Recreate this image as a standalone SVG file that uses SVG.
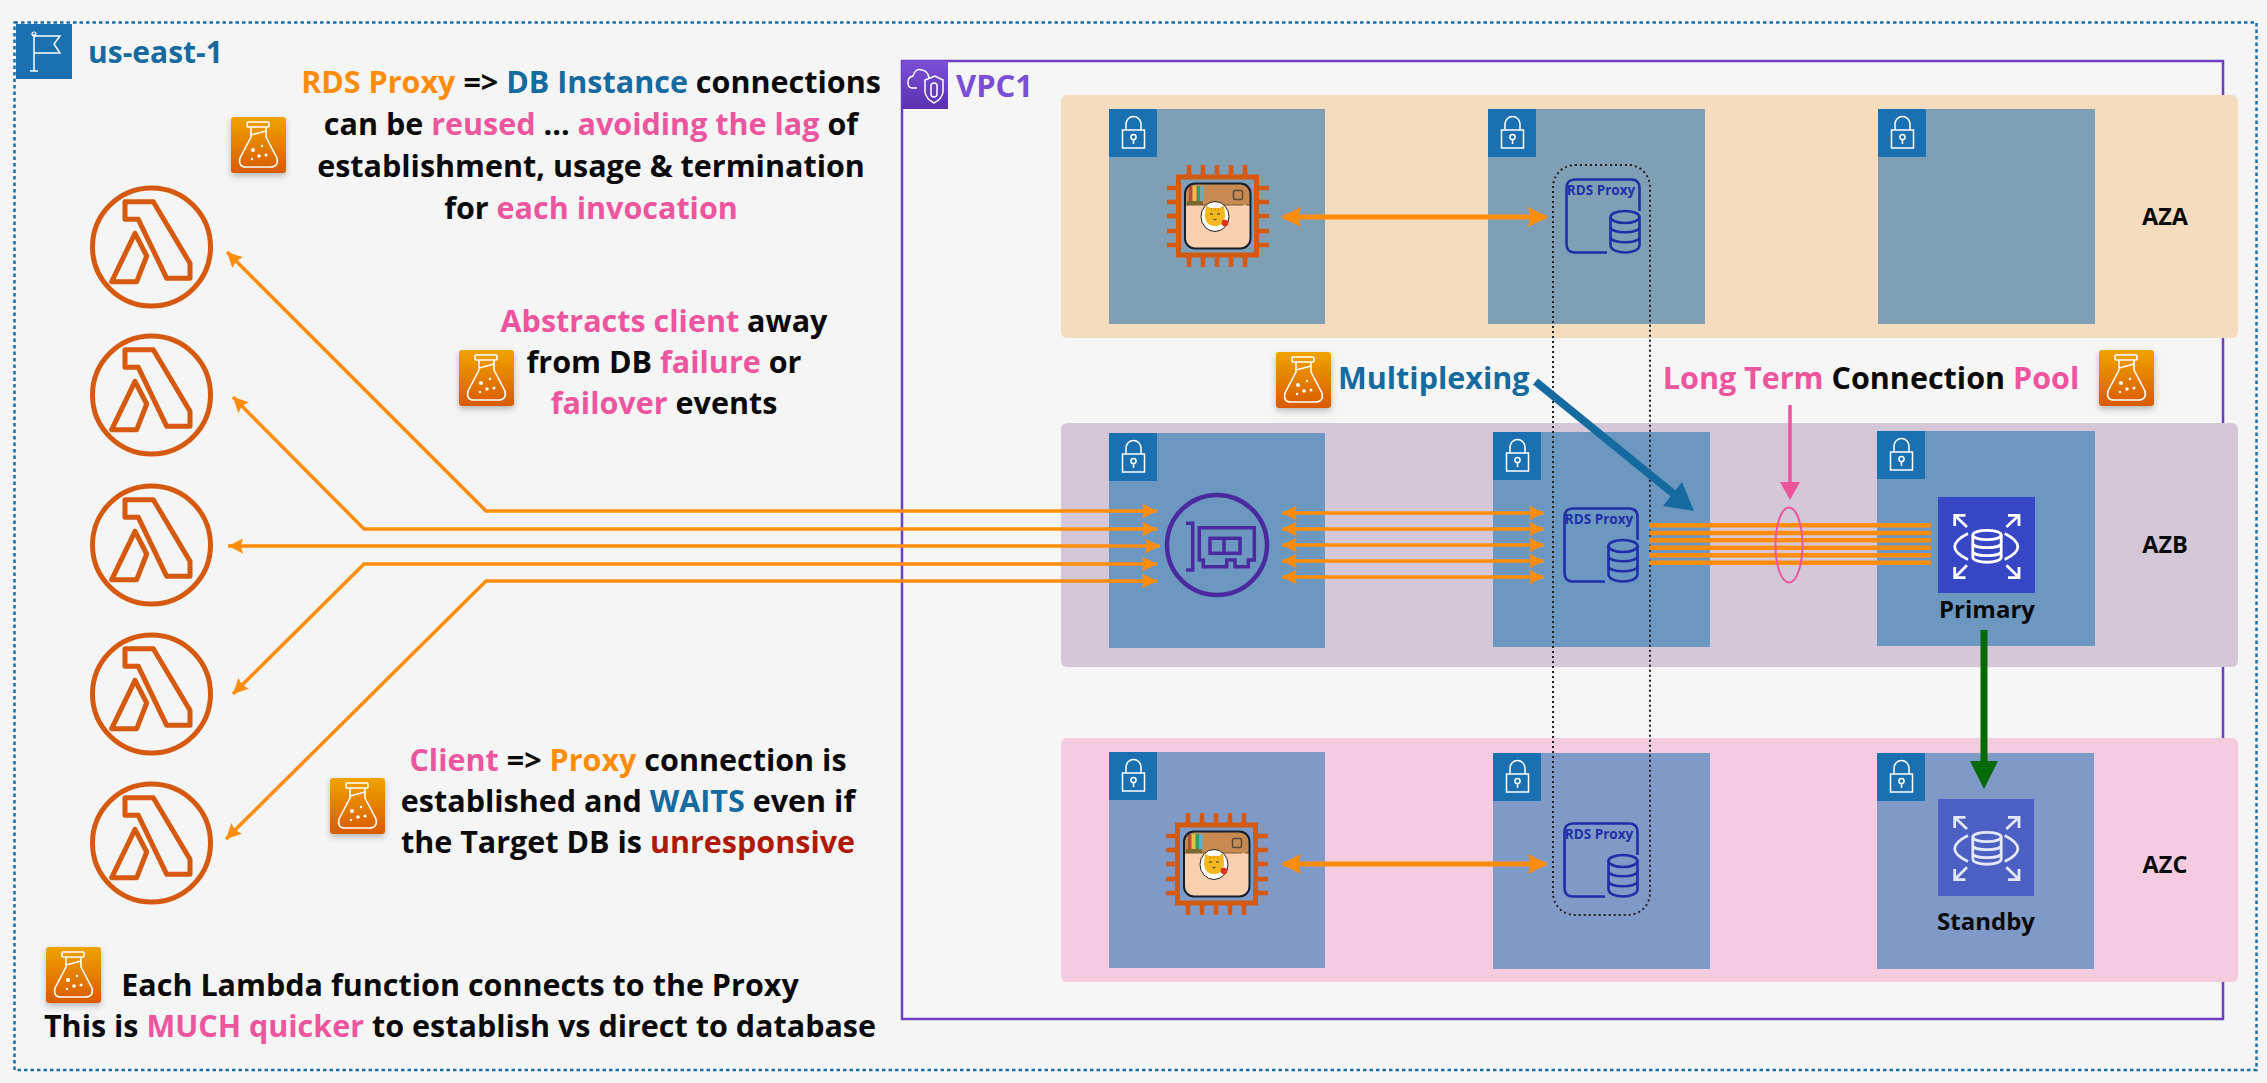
<svg xmlns="http://www.w3.org/2000/svg" width="2267" height="1083" viewBox="0 0 2267 1083">
<style>
text{font-family:"Open Sans","Liberation Sans",sans-serif;font-weight:700;fill:#0a0a0a}
.t{font-size:30.500px;text-anchor:middle}
.az{font-size:23.500px;text-anchor:middle}
.o{fill:#ff8c0a}.b{fill:#156a9f}.p{fill:#ee559f}.r{fill:#b01a05}
.or{stroke:#ff8c0a;stroke-width:3.500;fill:none}
.or2{stroke:#ff8c0a;stroke-width:5;fill:none}
.bar{stroke:#ff8c0a;stroke-width:4.500;fill:none}
.lam{fill:none;stroke:#d5590f;stroke-width:5;stroke-linejoin:round}
.s1{fill:#7f9fb6}.s2{fill:#6c97c0}.s3{fill:#7f9ac6}
.eni{fill:none;stroke:#4b2aa0;stroke-width:3.500}
</style>
<defs>
<linearGradient id="fg" x1="0" y1="0" x2="0" y2="1"><stop offset="0" stop-color="#f0a300"/><stop offset="1" stop-color="#d95a05"/></linearGradient>
<linearGradient id="vg" x1="0" y1="0" x2="0" y2="1"><stop offset="0" stop-color="#7c50d6"/><stop offset="1" stop-color="#5a30b0"/></linearGradient>
<filter id="sh" x="-20%" y="-20%" width="140%" height="150%"><feDropShadow dx="0" dy="3" stdDeviation="3" flood-color="#000" flood-opacity=".25"/></filter>
<marker id="ah" viewBox="0 0 10 10" refX="10" refY="5" markerUnits="userSpaceOnUse" markerWidth="15" markerHeight="15" orient="auto-start-reverse"><path d="M0 0L10 5L0 10L1.500 5Z" fill="#ff8c0a"/></marker>
<marker id="ah2" viewBox="0 0 10 10" refX="9" refY="5" markerUnits="userSpaceOnUse" markerWidth="20" markerHeight="20" orient="auto-start-reverse"><path d="M0 0L10 5L0 10L1.500 5Z" fill="#ff8c0a"/></marker>
<symbol id="flask" viewBox="0 0 55 56" overflow="visible">
<rect width="55" height="56" rx="3" fill="url(#fg)"/>
<g fill="none" stroke="#fff" stroke-width="1.600" stroke-linejoin="round">
<rect x="16" y="5" width="22" height="5" rx="1"/>
<path d="M20 10V20L9 41Q7 50 15 50H39Q48 50 46 41L35 20V10"/>
<path d="M20 18L35 14"/>
</g>
<g fill="#fff"><circle cx="22" cy="33" r="2"/><circle cx="31" cy="29" r="1.200"/><circle cx="35" cy="38" r="1.500"/><circle cx="21" cy="42" r="1.200"/><circle cx="28" cy="39" r="1.800"/></g>
</symbol>
<symbol id="lambda" viewBox="0 0 124 124">
<circle cx="62" cy="62" r="59" fill="none" stroke="#d5590f" stroke-width="5"/>
<path class="lam" d="M35.500 16.700H63.800L100.500 78.300V93.300H77.200L48.800 34.300H35.500Z"/>
<path class="lam" d="M45.500 48.300L22.200 96.700H47.200L57.200 71Z"/>
</symbol>
<symbol id="lock" viewBox="0 0 48 48">
<rect width="48" height="48" fill="#1a70b0"/>
<g fill="none" stroke="#fff" stroke-width="1.500">
<rect x="13.500" y="21" width="22" height="18"/>
<path d="M17 21V15A7.500 7.500 0 0 1 32 15V21"/>
<circle cx="24.500" cy="28" r="2.600"/>
<path d="M24.500 30.500V35"/>
</g>
</symbol>
<symbol id="chip" viewBox="0 0 102 102">
<rect x="11.500" y="12" width="78" height="78" fill="none" stroke="#d35a10" stroke-width="5"/>
<path fill="none" stroke="#d35a10" stroke-width="4.500" d="M22 0V12M36 0V12M50 0V12M64 0V12M78 0V12M22 90V102M36 90V102M50 90V102M64 90V102M78 90V102M0 23H12M0 37H12M0 51H12M0 66H12M0 80H12M90 23H102M90 37H102M90 51H102M90 66H102M90 80H102"/>
<rect x="18" y="18.500" width="65.500" height="65" rx="10" fill="#fccfae"/>
<path d="M18 40V28.500Q18 18.500 28 18.500H73.500Q83.500 18.500 83.500 28.500V40Z" fill="#c88a50"/>
<path d="M22 21H25V37H22Z" fill="#b84a3a"/><path d="M26 21H29V37H26Z" fill="#e8c040"/><path d="M30 21H33V37H30Z" fill="#3a9a6a"/><path d="M33.500 21H36.500V37H33.500Z" fill="#5ab0d0"/>
<rect x="20" y="36" width="16" height="4" rx="1" fill="#7a6a30"/>
<rect x="66.500" y="25.500" width="9" height="9" rx="1.500" fill="none" stroke="#5a4a3a" stroke-width="1.500"/>
<path d="M18 40H83" stroke="#7a5a3a" stroke-width="1" stroke-dasharray="30 3 25 3"/>
<rect x="18" y="18.500" width="65.500" height="65" rx="10" fill="none" stroke="#10202c" stroke-width="2"/>
<ellipse cx="48" cy="51.500" rx="14" ry="15" fill="#fff" stroke="#222" stroke-width="1"/>
<path d="M38.500 45L38.800 40.500L43.500 43H52.500L57 40.500L57.500 45Q58 48 58 51.500Q57 61 48 61Q39 61 38 51.500Q38 48 38.500 45Z" fill="#f5b81e"/>
<path d="M43 49H46M50 49H53" stroke="#333" stroke-width="1.200"/><path d="M46.500 54Q48 56 49.500 54" stroke="#333" fill="none"/>
<path d="M44 43L45 46M48 42.500V46M52 43L51 46" stroke="#d88a10" stroke-width="1"/>
<circle cx="58" cy="58" r="3.300" fill="#e03020"/>
</symbol>
<symbol id="proxy" viewBox="0 0 76 76">
<g fill="none" stroke="#1f2fa8" stroke-width="2.600">
<path d="M42 74.500H10Q1.500 74.500 1.500 66V10Q1.500 1.500 10 1.500H66Q74.500 1.500 74.500 10V33"/>
<path d="M45.500 39V67C45.500 77 74.500 77 74.500 67V39"/>
<ellipse cx="60" cy="39" rx="14.500" ry="6"/>
<path d="M45.500 49C45.500 56 74.500 56 74.500 49M45.500 59C45.500 66 74.500 66 74.500 59"/>
</g>
<text x="36" y="17" text-anchor="middle" style="font-size:13.500px;fill:#1f2fa8">RDS Proxy</text>
</symbol>
<symbol id="rds" viewBox="0 0 97 97">
<g fill="none" stroke="#fff" stroke-width="2.800">
<path d="M29 30L16.700 18.300M16.700 29V18.300H27.500M68.400 30L81 18.300M81 29V18.300H70M29 68.300L16.700 80.600M16.700 70V80.600H27.500M68.400 68.300L81 80.600M81 70V80.600H70"/>
<path d="M30 36.600Q3.400 50 30 62.600M66.700 36.600Q93 50 66.700 62.600"/>
<ellipse cx="49" cy="38" rx="14.200" ry="4.700"/>
<path d="M34.800 38V60C34.800 67 63.200 67 63.200 60V38M34.800 46.500C34.800 52 63.200 52 63.200 46.500M34.800 54.500C34.800 60 63.200 60 63.200 54.500"/>
</g>
</symbol>
</defs>
<rect width="2267" height="1083" fill="#f5f5f5"/>

<g id="region-us-east-1">
<rect x="14.500" y="22.500" width="2242" height="1047.500" fill="none" stroke="#1b6ea8" stroke-width="2.500" stroke-dasharray="3.500 3"/>
<rect x="16" y="24" width="56" height="55" fill="#1a70b0"/>
<path d="M34 34V71M30 71H38M34 36H60L54 44L60 53H34" fill="none" stroke="#fff" stroke-width="1.500"/><circle cx="34" cy="34" r="2" fill="none" stroke="#fff" stroke-width="1.200"/>
<text x="88" y="63" style="font-size:30px;fill:#156a9f">us-east-1</text>
</g>

<g id="vpc1">
<rect x="902" y="61" width="1321" height="958" fill="#f7f6f7" stroke="#6d3fc5" stroke-width="2.500"/>
<rect x="902" y="61" width="46" height="48" fill="url(#vg)"/>
<path d="M917 88H912Q908 88 908 82Q908 77 913 76Q915 68 922 70Q928 71 929 78" fill="none" stroke="#fff" stroke-width="1.500"/><path d="M925 80L935 76L943 80V92Q942 99 934 103Q926 99 925 92Z" fill="none" stroke="#fff" stroke-width="1.500"/><rect x="931" y="83" width="6" height="14" rx="3" fill="none" stroke="#fff" stroke-width="1.500"/>
<text x="956" y="97" style="font-size:31px;fill:#7a4fd6">VPC1</text>
</g>

<g id="az-a">
<rect x="1061" y="95" width="1177" height="243" rx="6" fill="#f6dcbf"/>
<text class="az" x="2165" y="225">AZA</text>
</g>
<g id="az-b">
<rect x="1061" y="423" width="1177" height="244" rx="6" fill="#d4c8d8"/>
<text class="az" x="2165" y="553">AZB</text>
</g>
<g id="az-c">
<rect x="1061" y="738" width="1177" height="244" rx="6" fill="#f5cbdf"/>
<text class="az" x="2165" y="873">AZC</text>
</g>

<g id="subnet-a1"><rect class="s1" x="1109" y="109" width="216" height="215"/><use href="#lock" x="1109" y="109" width="48" height="48"/></g>
<g id="subnet-a2"><rect class="s1" x="1488" y="109" width="217" height="215"/><use href="#lock" x="1488" y="109" width="48" height="48"/></g>
<g id="subnet-a3"><rect class="s1" x="1878" y="109" width="217" height="215"/><use href="#lock" x="1878" y="109" width="48" height="48"/></g>
<g id="subnet-b1"><rect class="s2" x="1109" y="433" width="216" height="215"/><use href="#lock" x="1109" y="433" width="48" height="48"/></g>
<g id="subnet-b2"><rect class="s2" x="1493" y="432" width="217" height="215"/><use href="#lock" x="1493" y="432" width="48" height="48"/></g>
<g id="subnet-b3"><rect class="s2" x="1877" y="431" width="218" height="215"/><use href="#lock" x="1877" y="431" width="48" height="48"/></g>
<g id="subnet-c1"><rect class="s3" x="1109" y="752" width="216" height="216"/><use href="#lock" x="1109" y="752" width="48" height="48"/></g>
<g id="subnet-c2"><rect class="s3" x="1493" y="753" width="217" height="216"/><use href="#lock" x="1493" y="753" width="48" height="48"/></g>
<g id="subnet-c3"><rect class="s3" x="1877" y="753" width="217" height="216"/><use href="#lock" x="1877" y="753" width="48" height="48"/></g>

<g id="lambda-1"><use href="#lambda" x="89.500" y="185" width="124" height="124"/></g>
<g id="lambda-2"><use href="#lambda" x="89.500" y="333" width="124" height="124"/></g>
<g id="lambda-3"><use href="#lambda" x="89.500" y="483" width="124" height="124"/></g>
<g id="lambda-4"><use href="#lambda" x="89.500" y="632" width="124" height="124"/></g>
<g id="lambda-5"><use href="#lambda" x="89.500" y="781" width="124" height="124"/></g>

<g id="ec2-a"><use href="#chip" x="1167" y="165" width="102" height="102"/></g>
<g id="ec2-c"><use href="#chip" x="1166" y="813" width="102" height="102"/></g>

<g id="eni">
<circle cx="1217" cy="545" r="50" fill="none" stroke="#4b2aa0" stroke-width="4.500"/>
<path class="eni" d="M1186 523.300H1192.700V570H1186"/>
<path class="eni" d="M1199.300 527.700H1254.300V560H1248.300V566.700H1235V560H1226.700V566.700H1203.300V560H1199.300Z"/>
<rect class="eni" x="1210" y="538.300" width="30" height="15"/><path class="eni" d="M1224 538.300V553.300"/>
</g>

<g id="proxy-a"><use href="#proxy" x="1565" y="178" width="76" height="76"/></g>
<g id="proxy-b"><use href="#proxy" x="1563" y="507" width="76" height="76"/></g>
<g id="proxy-c"><use href="#proxy" x="1563" y="822" width="76" height="76"/></g>

<g id="rds-primary">
<rect x="1938" y="497" width="97" height="96" fill="#3646c4"/>
<use href="#rds" x="1938" y="497" width="97" height="97"/>
<text x="1987" y="618" text-anchor="middle" style="font-size:24px">Primary</text>
</g>
<g id="rds-standby">
<rect x="1938" y="799" width="96" height="97" fill="#4c60c4"/>
<use href="#rds" x="1938" y="799" width="97" height="97" opacity=".85"/>
<text x="1986" y="930" text-anchor="middle" style="font-size:24px">Standby</text>
</g>

<g id="proxy-group"><rect x="1553" y="165" width="97" height="750" rx="22" fill="none" stroke="#222" stroke-width="2" stroke-dasharray="2 3"/></g>

<g id="connectors">
<path class="or2" marker-start="url(#ah2)" marker-end="url(#ah2)" d="M1283 217H1546"/>
<path class="or2" marker-start="url(#ah2)" marker-end="url(#ah2)" d="M1283 864H1546"/>
<path class="or" marker-start="url(#ah)" marker-end="url(#ah)" d="M227 252L486 511H1157"/>
<path class="or" marker-start="url(#ah)" marker-end="url(#ah)" d="M233 397L364 529H1157"/>
<path class="or" marker-start="url(#ah)" marker-end="url(#ah)" d="M228 546H1160"/>
<path class="or" marker-start="url(#ah)" marker-end="url(#ah)" d="M233 694L364 564H1157"/>
<path class="or" marker-start="url(#ah)" marker-end="url(#ah)" d="M226 839L486 581H1157"/>
<path class="or" marker-start="url(#ah)" marker-end="url(#ah)" d="M1282 513H1544"/>
<path class="or" marker-start="url(#ah)" marker-end="url(#ah)" d="M1282 529H1544"/>
<path class="or" marker-start="url(#ah)" marker-end="url(#ah)" d="M1282 545H1544"/>
<path class="or" marker-start="url(#ah)" marker-end="url(#ah)" d="M1282 561H1544"/>
<path class="or" marker-start="url(#ah)" marker-end="url(#ah)" d="M1282 577H1544"/>
<path class="bar" d="M1649 525.300H1931M1649 533H1931M1649 540.300H1931M1649 547.700H1931M1649 555.300H1931M1649 562.700H1931"/>
<ellipse cx="1789" cy="545" rx="13.500" ry="37.500" fill="none" stroke="#ec559c" stroke-width="2"/>
<path d="M1790 405V484" stroke="#ec559c" stroke-width="3.500"/><path d="M1780 482H1800L1790 500Z" fill="#ec559c"/>
<path d="M1535.500 381.500L1675 495" stroke="#156a9f" stroke-width="8"/><path d="M1663 506L1682 482L1694 511Z" fill="#156a9f"/>
<path d="M1984 630V763" stroke="#056a05" stroke-width="7"/><path d="M1970 761H1998L1984 789Z" fill="#056a05"/>
</g>

<g id="note-reuse">
<use href="#flask" x="231" y="117" width="55" height="56" filter="url(#sh)"/>
<text class="t" x="591" y="93"><tspan class="o">RDS Proxy</tspan> =&gt; <tspan class="b">DB Instance</tspan> connections</text>
<text class="t" x="591" y="135">can be <tspan class="p">reused</tspan> ... <tspan class="p">avoiding the lag</tspan> of</text>
<text class="t" x="591" y="177">establishment, usage &amp; termination</text>
<text class="t" x="591" y="219">for <tspan class="p">each invocation</tspan></text>
</g>
<g id="note-abstracts">
<use href="#flask" x="459" y="350" width="55" height="56" filter="url(#sh)"/>
<text class="t" x="664" y="332"><tspan class="p">Abstracts client</tspan> away</text>
<text class="t" x="664" y="373">from DB <tspan class="p">failure</tspan> or</text>
<text class="t" x="664" y="414"><tspan class="p">failover</tspan> events</text>
</g>
<g id="note-client">
<use href="#flask" x="330" y="778" width="55" height="56" filter="url(#sh)"/>
<text class="t" x="628" y="771"><tspan class="p">Client</tspan> =&gt; <tspan class="o">Proxy</tspan> connection is</text>
<text class="t" x="628" y="812">established and <tspan class="b">WAITS</tspan> even if</text>
<text class="t" x="628" y="853">the Target DB is <tspan class="r">unresponsive</tspan></text>
</g>
<g id="note-lambda">
<use href="#flask" x="46" y="947" width="55" height="56" filter="url(#sh)"/>
<text class="t" x="460" y="996">Each Lambda function connects to the Proxy</text>
<text class="t" x="460" y="1037">This is <tspan class="p">MUCH quicker</tspan> to establish vs direct to database</text>
</g>
<g id="note-multiplexing">
<use href="#flask" x="1276" y="352" width="55" height="56" filter="url(#sh)"/>
<text x="1338" y="389" style="font-size:30.500px;fill:#156a9f">Multiplexing</text>
</g>
<g id="note-pool">
<use href="#flask" x="2099" y="350" width="55" height="56" filter="url(#sh)"/>
<text class="t" x="1871" y="389"><tspan class="p">Long Term</tspan> Connection <tspan class="p">Pool</tspan></text>
</g>
</svg>
